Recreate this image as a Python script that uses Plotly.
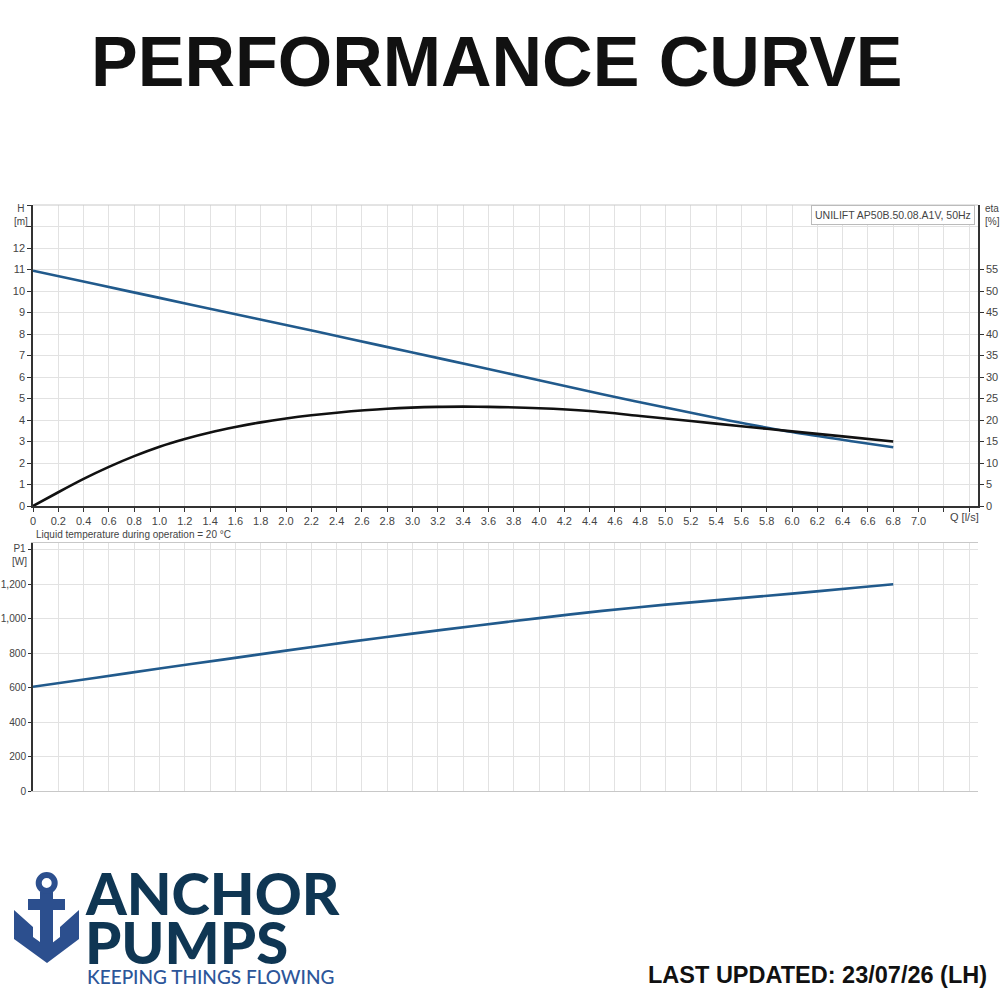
import plotly.graph_objects as go

# values
q_head = [0, 0.5, 1.0, 1.5, 2.0, 2.5, 3.0, 3.5, 4.0, 4.5, 5.0, 5.5, 6.0, 6.5, 6.8]
head_m = [10.94, 10.31, 9.68, 9.05, 8.42, 7.78, 7.14, 6.50, 5.85, 5.20, 4.58, 3.98, 3.44, 2.99, 2.73]

q_eta = [0, 0.2, 0.4, 0.6, 0.8, 1.0, 1.2, 1.4, 1.6, 1.8, 2.0, 2.2, 2.4, 2.8,
         3.2, 3.4, 3.6, 4.0, 4.4, 4.8, 5.2, 5.6, 6.0, 6.4, 6.8]
eta_pct = [0, 3.2, 6.3, 9.1, 11.6, 13.8, 15.6, 17.1, 18.35, 19.45, 20.35, 21.1, 21.7, 22.6,
           23.05, 23.1, 23.05, 22.75, 22.1, 20.95, 19.75, 18.55, 17.35, 16.2, 15.0]

q_power = [0, 0.5, 1.0, 1.5, 2.0, 2.5, 3.0, 3.5, 4.0, 4.5, 5.0, 5.5, 6.0, 6.5, 6.8]
power_w = [605, 658, 711, 763, 815, 866, 914, 960, 1004, 1046, 1082, 1114, 1146, 1180, 1200]

# tick labels
q_ticks = [round(0.2 * i, 1) for i in range(38)]
q_labels = ["0"] + ["%.1f" % v for v in q_ticks[1:36]] + ["", ""]
h_ticks = list(range(15))
h_labels = [str(v) for v in range(13)] + ["", ""]
eta_ticks = list(range(0, 60, 5))
p_ticks = [0, 200, 400, 600, 800, 1000, 1200, 1400]
p_labels = ["0", "200", "400", "600", "800", "1,000", "1,200", ""]

BLUE = "#215a8c"
GRID = "#e2e2e2"
AXIS = "#333333"
TXT = "#444444"
FONT = "Liberation Sans"

# page body margin is removed in post_script, so figure pixels = screen pixels
SIZE = 1000


def px(pix):
    return pix / SIZE


def py(pix):
    return 1 - pix / SIZE


fig = go.Figure()

fig.add_scatter(x=q_head, y=head_m, mode="lines",
                line=dict(color=BLUE, width=2.6, shape="spline", smoothing=0.8),
                xaxis="x", yaxis="y", showlegend=False)
fig.add_scatter(x=q_eta, y=eta_pct, mode="lines",
                line=dict(color="#111111", width=2.6, shape="spline", smoothing=0.8),
                xaxis="x", yaxis="y2", showlegend=False)
fig.add_scatter(x=q_power, y=power_w, mode="lines",
                line=dict(color=BLUE, width=2.6, shape="spline", smoothing=0.8),
                xaxis="x2", yaxis="y3", showlegend=False)

tick_font = dict(family=FONT, size=11, color=TXT)
x_dom = [px(33), px(978)]

fig.update_layout(
    width=SIZE, height=SIZE,
    margin=dict(l=0, r=0, t=0, b=0),
    paper_bgcolor="white", plot_bgcolor="white",
    xaxis=dict(domain=x_dom, anchor="y", range=[0, 7.47], automargin=False,
               tickvals=q_ticks, ticktext=q_labels, tickfont=tick_font,
               ticks="outside", ticklen=4, tickcolor=AXIS,
               showgrid=True, gridcolor=GRID, zeroline=False,
               showline=True, linecolor=AXIS, linewidth=1.5),
    yaxis=dict(domain=[py(506), py(205)], anchor="x", range=[0, 14], automargin=False,
               tickvals=h_ticks, ticktext=h_labels, tickfont=tick_font,
               ticks="outside", ticklen=4, tickcolor=AXIS,
               showgrid=True, gridcolor=GRID, zeroline=False,
               showline=True, linecolor=AXIS, linewidth=1.5),
    yaxis2=dict(overlaying="y", side="right", anchor="x", range=[0, 70], automargin=False,
                tickvals=eta_ticks, tickfont=tick_font,
                ticks="outside", ticklen=4, tickcolor=AXIS,
                showgrid=False, zeroline=False,
                showline=True, linecolor=AXIS, linewidth=1.5),
    xaxis2=dict(domain=x_dom, anchor="y3", range=[0, 7.47], automargin=False,
                tickvals=q_ticks, showticklabels=False, ticks="",
                showgrid=True, gridcolor=GRID, zeroline=False,
                showline=True, linecolor="#c8c8c8", linewidth=1, mirror=True),
    yaxis3=dict(domain=[py(791), py(543)], anchor="x2", range=[0, 1440], automargin=False,
                tickvals=p_ticks, ticktext=p_labels,
                tickfont=dict(family=FONT, size=10.2, color=TXT),
                ticks="outside", ticklen=3, tickcolor=AXIS,
                showgrid=True, gridcolor=GRID, zeroline=False,
                showline=True, linecolor=AXIS, linewidth=1.5),
)

# light frame on top of the upper chart
fig.add_shape(type="line", xref="paper", yref="paper", x0=x_dom[0], x1=x_dom[1],
              y0=py(205), y1=py(205), line=dict(color="#c8c8c8", width=1))

# ---- anchor logo drawn as shapes
ANCHOR_BLUE = "#2c4f8e"


def pt(x, y):
    return "%.4f,%.4f" % (px(x), py(y))


v_pts = [(14, 910), (33, 927), (33, 937), (47, 947), (60, 937), (60, 927),
         (79, 910), (79, 939), (47, 963), (14, 939)]
path = "M " + " L ".join(pt(*p) for p in v_pts) + " Z"
fig.add_shape(type="path", xref="paper", yref="paper", path=path,
              fillcolor=ANCHOR_BLUE, line=dict(width=0))
fig.add_shape(type="rect", xref="paper", yref="paper", x0=px(40), x1=px(53),
              y0=py(952), y1=py(892), fillcolor=ANCHOR_BLUE, line=dict(width=0))
fig.add_shape(type="rect", xref="paper", yref="paper", x0=px(28), x1=px(65),
              y0=py(910), y1=py(899), fillcolor=ANCHOR_BLUE, line=dict(width=0))
fig.add_shape(type="circle", xref="paper", yref="paper", x0=px(38.7), x1=px(54.7),
              y0=py(891), y1=py(875), line=dict(color=ANCHOR_BLUE, width=6))

annotations = [
    dict(text="<b>PERFORMANCE CURVE</b>", x=px(497), y=py(62), xanchor="center", yanchor="middle",
         font=dict(family=FONT, size=70, color="#111111")),
    dict(text="H<br>[m]", x=px(21), y=py(215), xanchor="center", yanchor="middle",
         font=dict(family=FONT, size=10, color=TXT)),
    dict(text="eta<br>[%]", x=px(983), y=py(215), xanchor="left", yanchor="middle", align="left",
         font=dict(family=FONT, size=10, color=TXT)),
    dict(text="Q [l/s]", x=px(964), y=py(517), xanchor="center", yanchor="middle",
         font=dict(family=FONT, size=11, color=TXT)),
    dict(text="UNILIFT AP50B.50.08.A1V, 50Hz", x=px(975), y=py(205), xanchor="right", yanchor="top",
         font=dict(family=FONT, size=10.5, color=TXT), bgcolor="white",
         bordercolor="#bbbbbb", borderwidth=1, borderpad=3),
    dict(text="Liquid temperature during operation = 20 \u00b0C", x=px(34), y=py(534),
         xanchor="left", yanchor="middle", font=dict(family=FONT, size=10, color=TXT)),
    dict(text="P1<br>[W]", x=px(19), y=py(555), xanchor="center", yanchor="middle",
         font=dict(family=FONT, size=10, color=TXT)),
    dict(text="ANCHOR", x=px(83), y=py(892), xanchor="left", yanchor="middle", height=46,
         font=dict(family="Lato", size=58, color="#0f3653", weight=900)),
    dict(text="PUMPS", x=px(83), y=py(941), xanchor="left", yanchor="middle", height=46,
         font=dict(family="Lato", size=58, color="#0f3653", weight=900)),
    dict(text="KEEPING THINGS FLOWING", x=px(85), y=py(976), xanchor="left", yanchor="middle",
         height=20, font=dict(family="Lato", size=19, color="#2c569a", weight=500)),
    dict(text="<b>LAST UPDATED: 23/07/26 (LH)</b>", x=px(989), y=py(975), xanchor="right",
         yanchor="middle", font=dict(family=FONT, size=23.5, color="#111111")),
]
for a in annotations:
    a.update(xref="paper", yref="paper", showarrow=False)
    fig.add_annotation(**a)

fig.write_html("out.html", config={"displayModeBar": False},
               post_script="document.body.style.margin='0';document.body.style.overflow='hidden';")
